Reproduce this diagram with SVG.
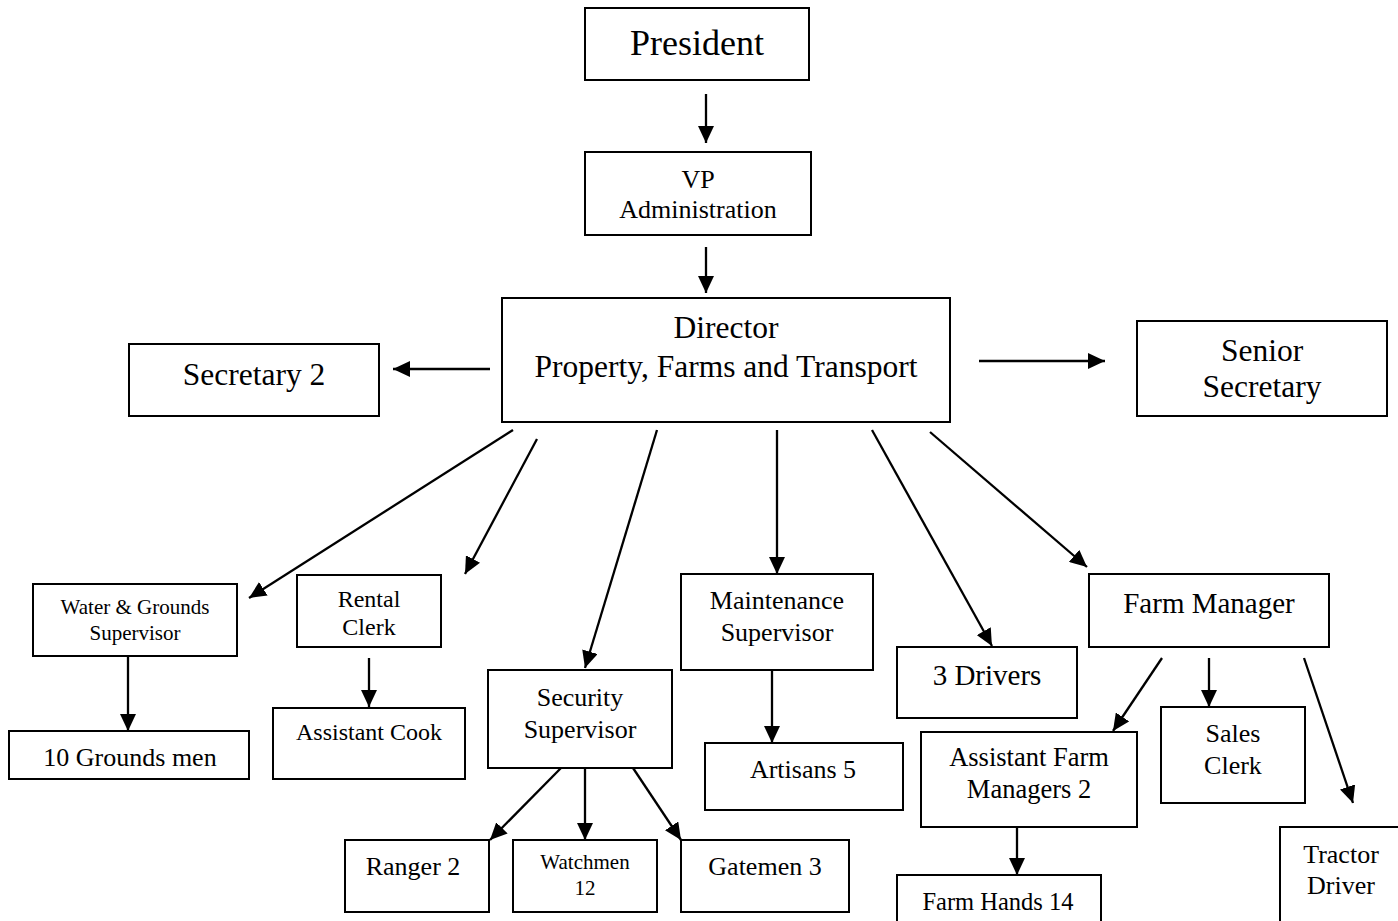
<svg xmlns="http://www.w3.org/2000/svg" width="1398" height="921" viewBox="0 0 1398 921">
  <style>
    .box { fill: #ffffff; stroke: #000000; stroke-width: 2; }
    .lbl { font-family: "Liberation Serif", "Times New Roman", serif; fill: #000000; text-anchor: middle; }
    .link { stroke: #000000; stroke-width: 2.3; fill: none; marker-end: url(#head); }
  </style>
  <defs>
    <marker id="head" markerUnits="userSpaceOnUse" viewBox="0 0 17 16" refX="17" refY="8" markerWidth="17" markerHeight="16" orient="auto">
      <path d="M0,0 L17,8 L0,16 z" fill="#000000"/>
    </marker>
  </defs>
  <rect width="1398" height="921" fill="#ffffff"/>

  <!-- reporting lines -->
  <g id="connectors">
    <line class="link" x1="706" y1="94" x2="706" y2="143"/>
    <line class="link" x1="706" y1="247" x2="706" y2="293"/>
    <line class="link" x1="490" y1="369" x2="393" y2="369"/>
    <line class="link" x1="979" y1="361" x2="1105" y2="361"/>
    <line class="link" x1="513" y1="430" x2="249" y2="598"/>
    <line class="link" x1="537" y1="439" x2="465" y2="574"/>
    <line class="link" x1="657" y1="430" x2="585" y2="668"/>
    <line class="link" x1="777" y1="430" x2="777" y2="574"/>
    <line class="link" x1="872" y1="430" x2="992" y2="646"/>
    <line class="link" x1="930" y1="432" x2="1087" y2="567"/>
    <line class="link" x1="128" y1="656" x2="128" y2="731"/>
    <line class="link" x1="369" y1="658" x2="369" y2="707"/>
    <line class="link" x1="561" y1="768" x2="490" y2="840"/>
    <line class="link" x1="585" y1="768" x2="585" y2="840"/>
    <line class="link" x1="633" y1="768" x2="681" y2="840"/>
    <line class="link" x1="772" y1="670" x2="772" y2="743"/>
    <line class="link" x1="1162" y1="658" x2="1113" y2="731"/>
    <line class="link" x1="1209" y1="658" x2="1209" y2="707"/>
    <line class="link" x1="1304" y1="658" x2="1353" y2="803"/>
    <line class="link" x1="1017" y1="827" x2="1017" y2="875"/>
  </g>

  <g id="president">
    <rect class="box" x="585" y="8" width="224" height="72"/>
    <text class="lbl" x="697" y="55" font-size="36">President</text>
  </g>
  <g id="vp-administration">
    <rect class="box" x="585" y="152" width="226" height="83"/>
    <text class="lbl" x="698" y="188" font-size="26">VP</text>
    <text class="lbl" x="698" y="218" font-size="26">Administration</text>
  </g>
  <g id="director">
    <rect class="box" x="502" y="298" width="448" height="124"/>
    <text class="lbl" x="726" y="338" font-size="31.5">Director</text>
    <text class="lbl" x="726" y="377" font-size="31.5">Property, Farms and Transport</text>
  </g>
  <g id="secretary-2">
    <rect class="box" x="129" y="344" width="250" height="72"/>
    <text class="lbl" x="254" y="385" font-size="31.5">Secretary 2</text>
  </g>
  <g id="senior-secretary">
    <rect class="box" x="1137" y="321" width="250" height="95"/>
    <text class="lbl" x="1262" y="361" font-size="31.5">Senior</text>
    <text class="lbl" x="1262" y="397" font-size="31.5">Secretary</text>
  </g>
  <g id="water-grounds-supervisor">
    <rect class="box" x="33" y="584" width="204" height="72"/>
    <text class="lbl" x="135" y="614" font-size="21">Water &amp; Grounds</text>
    <text class="lbl" x="135" y="640" font-size="21">Supervisor</text>
  </g>
  <g id="rental-clerk">
    <rect class="box" x="297" y="575" width="144" height="72"/>
    <text class="lbl" x="369" y="607" font-size="24">Rental</text>
    <text class="lbl" x="369" y="635" font-size="24">Clerk</text>
  </g>
  <g id="grounds-men">
    <rect class="box" x="9" y="731" width="240" height="48"/>
    <text class="lbl" x="130" y="766" font-size="26">10 Grounds men</text>
  </g>
  <g id="assistant-cook">
    <rect class="box" x="273" y="708" width="192" height="71"/>
    <text class="lbl" x="369" y="740" font-size="24">Assistant Cook</text>
  </g>
  <g id="security-supervisor">
    <rect class="box" x="488" y="670" width="184" height="98"/>
    <text class="lbl" x="580" y="706" font-size="26">Security</text>
    <text class="lbl" x="580" y="738" font-size="26">Supervisor</text>
  </g>
  <g id="maintenance-supervisor">
    <rect class="box" x="681" y="574" width="192" height="96"/>
    <text class="lbl" x="777" y="609" font-size="26">Maintenance</text>
    <text class="lbl" x="777" y="641" font-size="26">Supervisor</text>
  </g>
  <g id="artisans">
    <rect class="box" x="705" y="743" width="198" height="67"/>
    <text class="lbl" x="803" y="778" font-size="26">Artisans 5</text>
  </g>
  <g id="ranger">
    <rect class="box" x="345" y="840" width="144" height="72"/>
    <text class="lbl" x="413" y="875" font-size="26">Ranger 2</text>
  </g>
  <g id="watchmen">
    <rect class="box" x="513" y="840" width="144" height="72"/>
    <text class="lbl" x="585" y="869" font-size="21">Watchmen</text>
    <text class="lbl" x="585" y="895" font-size="21">12</text>
  </g>
  <g id="gatemen">
    <rect class="box" x="681" y="840" width="168" height="72"/>
    <text class="lbl" x="765" y="875" font-size="26">Gatemen 3</text>
  </g>
  <g id="drivers">
    <rect class="box" x="897" y="647" width="180" height="71"/>
    <text class="lbl" x="987" y="685" font-size="29">3 Drivers</text>
  </g>
  <g id="farm-manager">
    <rect class="box" x="1089" y="574" width="240" height="73"/>
    <text class="lbl" x="1209" y="613" font-size="29">Farm Manager</text>
  </g>
  <g id="assistant-farm-managers">
    <rect class="box" x="921" y="732" width="216" height="95"/>
    <text class="lbl" x="1029" y="766" font-size="26.5">Assistant Farm</text>
    <text class="lbl" x="1029" y="798" font-size="26.5">Managers 2</text>
  </g>
  <g id="sales-clerk">
    <rect class="box" x="1161" y="707" width="144" height="96"/>
    <text class="lbl" x="1233" y="742" font-size="26">Sales</text>
    <text class="lbl" x="1233" y="774" font-size="26">Clerk</text>
  </g>
  <g id="tractor-driver">
    <rect class="box" x="1280" y="827" width="130" height="110"/>
    <text class="lbl" x="1341" y="863" font-size="26">Tractor</text>
    <text class="lbl" x="1341" y="894" font-size="26">Driver</text>
  </g>
  <g id="farm-hands">
    <rect class="box" x="897" y="875" width="204" height="60"/>
    <text class="lbl" x="998" y="910" font-size="24.5">Farm Hands 14</text>
  </g>
</svg>
